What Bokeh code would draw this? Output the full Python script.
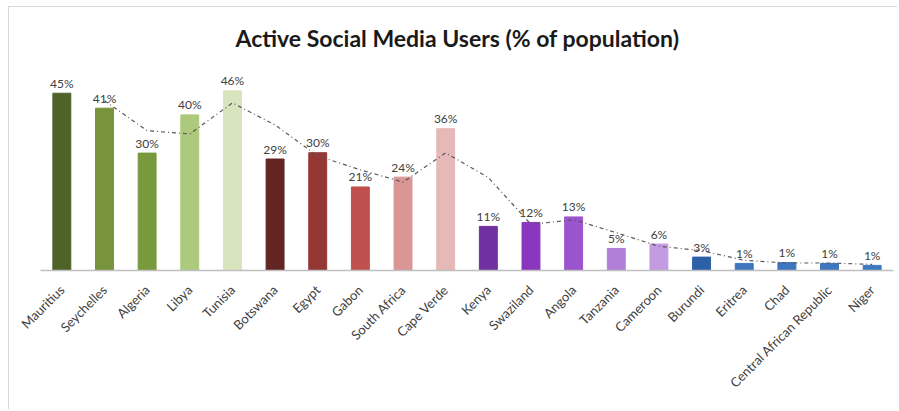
import numpy as np
from bokeh.plotting import figure
from bokeh.models import ColumnDataSource, FactorRange, Range1d
from bokeh.core.properties import value
from bokeh.embed import file_html
from bokeh.resources import INLINE

countries = ["Mauritius", "Seychelles", "Algeria", "Libya", "Tunisia", "Botswana",
             "Egypt", "Gabon", "South Africa", "Cape Verde", "Kenya", "Swaziland",
             "Angola", "Tanzania", "Cameroon", "Burundi", "Eritrea", "Chad",
             "Central African Republic", "Niger"]
values = [45.0, 41.2, 29.8, 39.5, 45.6, 28.3, 29.9, 21.2, 23.7, 36.0,
          11.2, 12.2, 13.6, 5.6, 6.7, 3.4, 1.8, 2.0, 1.8, 1.3]
labels = ["45%", "41%", "30%", "40%", "46%", "29%", "30%", "21%", "24%", "36%",
          "11%", "12%", "13%", "5%", "6%", "3%", "1%", "1%", "1%", "1%"]
colors = ["#4f6228", "#77933c", "#789a3c", "#adc97b", "#d7e4bd",
          "#632523", "#953735", "#c0504d", "#d99694", "#e6b9b8",
          "#7030a0", "#8a36be", "#9b55cc", "#b17ed8", "#c49be0",
          "#2c61a8", "#3e76c0", "#3e76c0", "#3e76c0", "#3e76c0"]

# 2-period moving average trendline (as drawn by the spreadsheet)
ma_x = countries[1:]
ma_y = list((np.array(values[1:]) + np.array(values[:-1])) / 2.0)

src = ColumnDataSource(dict(x=countries, top=values, label=labels, color=colors))

p = figure(width=889, height=403, output_backend="svg", toolbar_location=None,
           x_range=FactorRange(*countries, range_padding=0),
           y_range=Range1d(0, 52.8), y_axis_location=None,
           min_border_left=31, min_border_right=5, min_border_top=55,
           min_border_bottom=140)
p.styles = {"border-top": "1px solid #d9d9d9", "border-left": "1px solid #d9d9d9",
            "margin-left": "8px", "margin-top": "6px"}

p.title.text = "Active Social Media Users (% of population)"
p.title.text_font = "Lato"
p.title.text_font_size = "23px"
p.title.text_font_style = "bold"
p.title.text_color = "#1a1a1a"
p.title.align = "left"
p.title.offset = 195
p.title.standoff = 22

p.vbar(x="x", top="top", width=0.42, color="color", source=src)
p.line(ma_x, ma_y, line_color="#595959", line_width=1.2, line_dash="4 3 1 3")
p.text(x="x", y="top", text="label", source=src, text_align="center",
       text_baseline="alphabetic", y_offset=-10, text_font=value("Lato"),
       text_font_size="12px", text_color="#404040")

p.xgrid.visible = False
p.ygrid.visible = False
p.outline_line_color = None
ax = p.xaxis[0]
ax.axis_line_color = "#bfbfbf"
ax.axis_line_width = 1.5
ax.major_tick_line_color = None
ax.minor_tick_line_color = None
ax.major_label_orientation = np.pi / 4
ax.major_label_text_font = "Lato"
ax.major_label_text_font_size = "13px"
ax.major_label_text_color = "#404040"
ax.major_label_standoff = 11

open("out.html", "w").write(file_html(p, INLINE))
